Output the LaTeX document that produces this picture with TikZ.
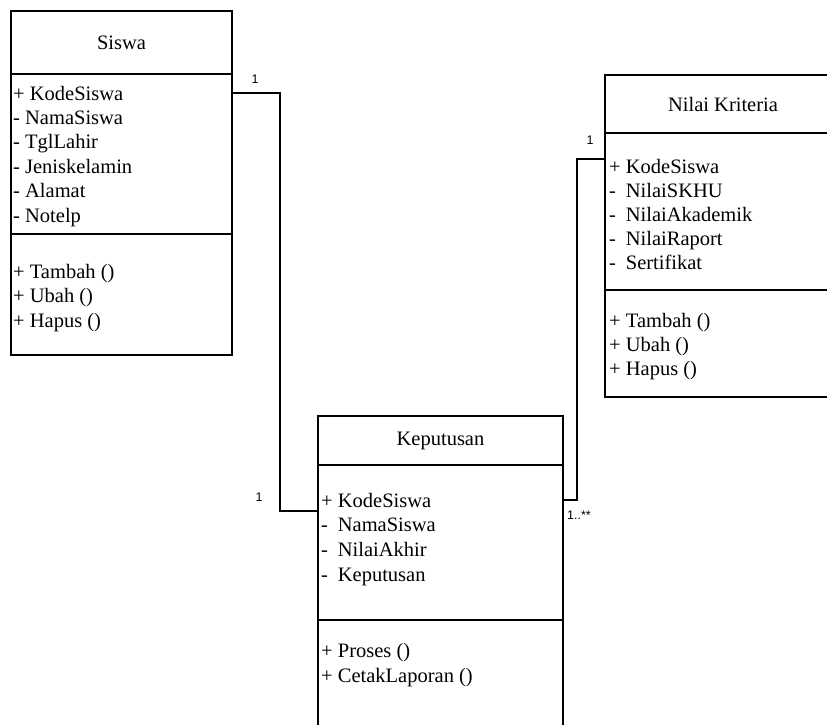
\documentclass[tikz,border=0pt]{standalone}
\usepackage{fontspec}
\setmainfont{Liberation Serif}
\newfontfamily\multfont{Liberation Sans}
\usetikzlibrary{positioning}
\tikzset{
    head/.style   = {draw, rectangle, line width=1.6pt, inner sep=0pt, outer sep=0pt, anchor=north west, font=\fontsize{20.5}{24}\selectfont},
    comp/.style   = {draw, rectangle, line width=1.6pt, inner sep=0pt, outer sep=0pt, anchor=north west},
    member/.style = {anchor=west, inner sep=0pt, text height=18pt, text depth=4pt, font=\fontsize{20.5}{24}\selectfont},
    mult/.style   = {inner sep=0pt, font=\multfont\fontsize{12.5}{14}\selectfont},
    link/.style   = {line width=1.6pt}
}
\newcommand{\hidden}[1]{\rlap{-}\phantom{+} #1}

\begin{document}
\begin{tikzpicture}[x=1pt, y=-1pt]
    \useasboundingbox (0,0) rectangle (827,724);
    \clip (0,0) rectangle (827,724);

    % Siswa
    \node [head, minimum width=221pt, minimum height=63pt]  (siswa)     at (11,11)              {Siswa};
    \node [comp, minimum width=221pt, minimum height=160pt] (siswaAttr) at (siswa.south west)     {};
    \node [comp, minimum width=221pt, minimum height=121pt] (siswaOps)  at (siswaAttr.south west) {};
    \foreach \t [count=\i] in {+ KodeSiswa, - NamaSiswa, - TglLahir, - Jeniskelamin, - Alamat, - Notelp}
        \node [member] (siswaA\i) at ([xshift=2pt, yshift={-19pt-(\i-1)*24.4pt}]siswaAttr.north west) {\t};
    \foreach \t [count=\i] in {+ Tambah (), + Ubah (), + Hapus ()}
        \node [member] (siswaO\i) at ([xshift=2pt, yshift={-37pt-(\i-1)*24.5pt}]siswaOps.north west) {\t};

    % Nilai Kriteria
    \node [head, minimum width=236pt, minimum height=58pt]  (nilai)     at (605,75)             {Nilai Kriteria};
    \node [comp, minimum width=236pt, minimum height=157pt] (nilaiAttr) at (nilai.south west)     {};
    \node [comp, minimum width=236pt, minimum height=107pt] (nilaiOps)  at (nilaiAttr.south west) {};
    \foreach \t [count=\i] in {+ KodeSiswa, \hidden{NilaiSKHU}, \hidden{NilaiAkademik}, \hidden{NilaiRaport}, \hidden{Sertifikat}}
        \node [member] (nilaiA\i) at ([xshift=4pt, yshift={-33pt-(\i-1)*24pt}]nilaiAttr.north west) {\t};
    \foreach \t [count=\i] in {+ Tambah (), + Ubah (), + Hapus ()}
        \node [member] (nilaiO\i) at ([xshift=4pt, yshift={-30pt-(\i-1)*24pt}]nilaiOps.north west) {\t};

    % Keputusan
    \node [head, minimum width=245pt, minimum height=49pt]  (keputusan)     at (318,416)                {Keputusan};
    \node [comp, minimum width=245pt, minimum height=155pt] (keputusanAttr) at (keputusan.south west)     {};
    \node [comp, minimum width=245pt, minimum height=130pt] (keputusanOps)  at (keputusanAttr.south west) {};
    \foreach \t [count=\i] in {+ KodeSiswa, \hidden{NamaSiswa}, \hidden{NilaiAkhir}, \hidden{Keputusan}}
        \node [member] (keputusanA\i) at ([xshift=3pt, yshift={-35pt-(\i-1)*24.7pt}]keputusanAttr.north west) {\t};
    \foreach \t [count=\i] in {+ Proses (), + CetakLaporan ()}
        \node [member] (keputusanO\i) at ([xshift=3pt, yshift={-30pt-(\i-1)*25pt}]keputusanOps.north west) {\t};

    % relations
    \coordinate (siswaOut) at (siswaAttr.east |- siswaA1);
    \coordinate [yshift=-11pt] (keputusanIn) at (keputusanAttr.west |- keputusanA1);
    \coordinate (keputusanOut) at (keputusanAttr.east |- keputusanA1);
    \coordinate [yshift=7pt] (nilaiIn) at (nilaiAttr.west |- nilaiA1);

    \draw [link] (siswaOut) -- ++(48,0) |- (keputusanIn);
    \draw [link] (keputusanOut) -- ++(14,0) |- (nilaiIn);

    \node [mult]              (multSiswa)  at (255,79)  {1};
    \node [mult]              (multKepL)   at (259,497) {1};
    \node [mult]              (multNilai)  at (590,140) {1};
    \node [mult, anchor=west] (multKepR)   at (567,515) {1..**};
\end{tikzpicture}
\end{document}
